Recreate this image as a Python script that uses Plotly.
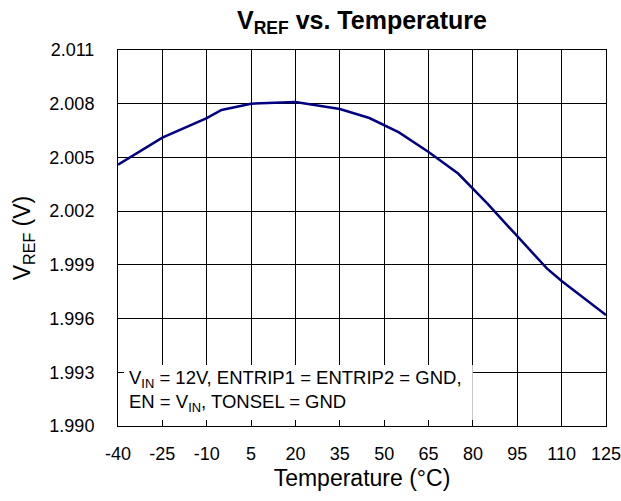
import plotly.graph_objects as go

# Reference voltage vs. junction temperature
temperature_c = [-40, -25, -10, -5, 5, 20, 35, 45, 55, 65, 75, 85, 95, 105, 110, 125]
vref_v = [2.0046, 2.0061, 2.0072, 2.00765, 2.0080, 2.0081, 2.0077, 2.0072,
          2.0064, 2.0053, 2.0041, 2.0024, 2.0006, 1.9988, 1.9981, 1.9962]

x_ticks = [-40, -25, -10, 5, 20, 35, 50, 65, 80, 95, 110, 125]
y_ticks = [1.990, 1.993, 1.996, 1.999, 2.002, 2.005, 2.008, 2.011]

X_RANGE = [-40, 125]
Y_RANGE = [1.990, 2.011]

FONT = "Liberation Sans, Arial, sans-serif"


def frac_x(f):
    return X_RANGE[0] + f * (X_RANGE[1] - X_RANGE[0])


def frac_y(f):
    return Y_RANGE[0] + f * (Y_RANGE[1] - Y_RANGE[0])


fig = go.Figure()
fig.add_trace(go.Scatter(
    x=temperature_c, y=vref_v, mode="lines",
    line=dict(color="#000080", width=2.5),
    showlegend=False, hoverinfo="skip",
))

# White backdrop behind the test-condition note, hiding the grid under it
fig.add_shape(type="rect", xref="x", yref="y",
              x0=frac_x(0.004), x1=frac_x(0.727), y0=frac_y(0.0), y1=frac_y(0.162),
              fillcolor="white", line=dict(width=0), layer="between")

fig.add_annotation(
    xref="paper", yref="paper", x=0.018, y=0.162,
    xanchor="left", yanchor="top", align="left", showarrow=False,
    text="V<sub>IN</sub> = 12V, ENTRIP1 = ENTRIP2 = GND,<br>EN = V<sub>IN</sub>, TONSEL = GND",
    font=dict(family=FONT, size=18.5, color="black"),
)

fig.update_layout(
    template="none",
    width=621, height=501,
    margin=dict(l=118, r=15, t=50, b=75, autoexpand=False),
    paper_bgcolor="white", plot_bgcolor="white",
    font=dict(family=FONT, color="black"),
    title=dict(text="<b>V<sub>REF</sub> vs. Temperature</b>",
               x=0.5, xref="paper", xanchor="center",
               y=0.96, yref="container", yanchor="middle",
               font=dict(family=FONT, size=25, color="black")),
)

fig.update_xaxes(
    range=X_RANGE, tickvals=x_ticks, ticktext=[str(t) for t in x_ticks],
    automargin=False, ticklabeloverflow="allow",
    showgrid=True, gridcolor="black", gridwidth=1,
    showline=True, linecolor="black", linewidth=1, mirror=True,
    ticks="inside", ticklen=6, tickcolor="black", ticklabelstandoff=11,
    tickfont=dict(family=FONT, size=18), zeroline=False,
    title=dict(text="Temperature (°C)", font=dict(family=FONT, size=23), standoff=7),
)
fig.update_yaxes(
    range=Y_RANGE, tickvals=y_ticks, ticktext=[f"{t:.3f}" for t in y_ticks],
    automargin=False,
    showgrid=True, gridcolor="black", gridwidth=1,
    showline=True, linecolor="black", linewidth=1, mirror=True,
    ticks="inside", ticklen=6, tickcolor="black", ticklabelstandoff=19,
    tickfont=dict(family=FONT, size=18), zeroline=False,
    title=dict(text="V<sub>REF</sub> (V)", font=dict(family=FONT, size=23), standoff=12),
)

fig.write_html("out.html")
